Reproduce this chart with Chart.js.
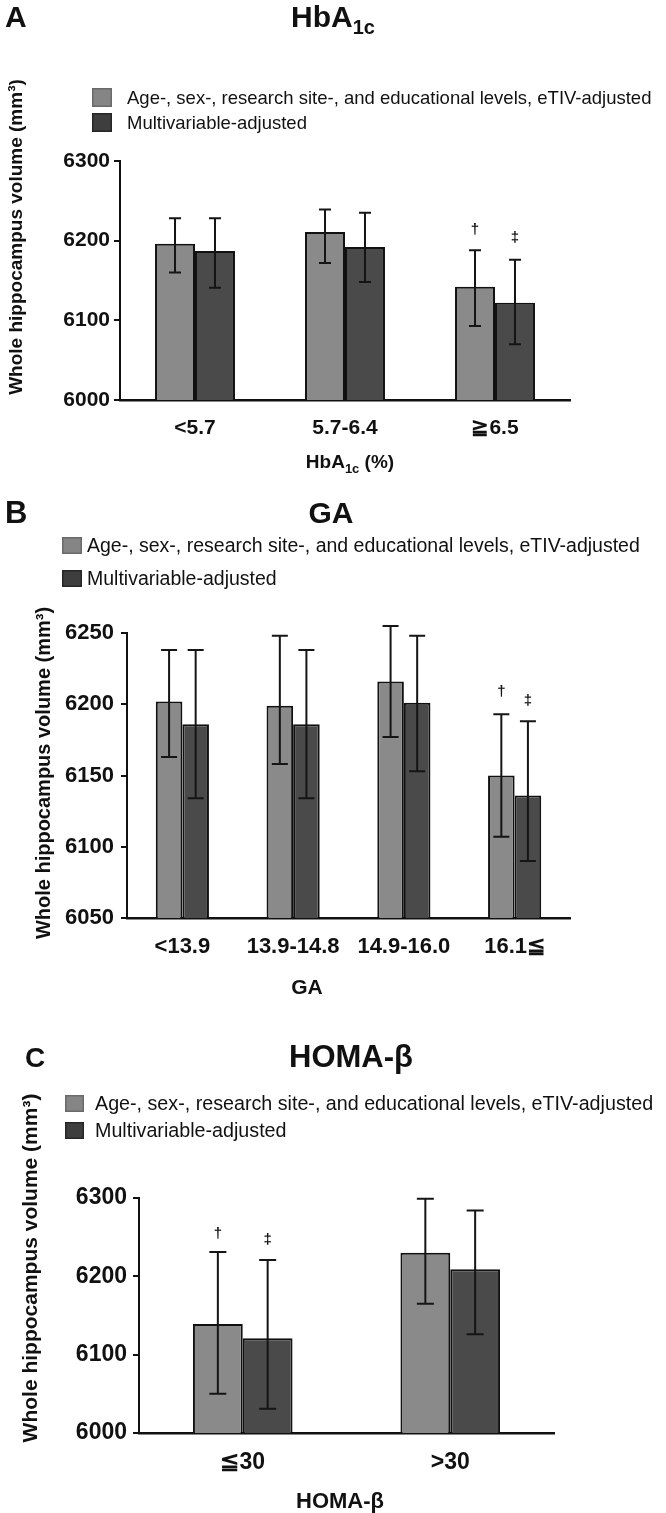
<!DOCTYPE html>
<html>
<head>
<meta charset="utf-8">
<script src="https://cdn.jsdelivr.net/npm/chart.js@4.4.0/dist/chart.umd.min.js"></script>
<style>
  body { margin: 0; background: #fff; width: 666px; height: 1513px; position: relative; overflow: hidden; }
  canvas { position: absolute; left: 0; }
</style>
</head>
<body>
<canvas id="chartA" width="666" height="480" style="top:0px"></canvas>
<canvas id="chartB" width="666" height="520" style="top:480px"></canvas>
<canvas id="chartC" width="666" height="513" style="top:1000px"></canvas>
<script>
// series names
const seriesNames = ['Age-, sex-, research site-, and educational levels, eTIV-adjusted', 'Multivariable-adjusted'];

// A: HbA1c
const categoriesA = ['<5.7', '5.7-6.4', '≧6.5'];
const adjustedA = [6196, 6211, 6142];
const adjustedA_lo = [6160, 6172, 6093];
const adjustedA_hi = [6228, 6239, 6188];
const multiA = [6187, 6192, 6122];
const multiA_lo = [6141, 6148, 6070];
const multiA_hi = [6228, 6235, 6176];
const ticksA = [6000, 6100, 6200, 6300];

// B: GA
const categoriesB = ['<13.9', '13.9-14.8', '14.9-16.0', '16.1≦'];
const adjustedB = [6202, 6199, 6216, 6150];
const adjustedB_lo = [6163, 6158, 6177, 6107];
const adjustedB_hi = [6238, 6248, 6255, 6193];
const multiB = [6186, 6186, 6201, 6136];
const multiB_lo = [6134, 6134, 6153, 6090];
const multiB_hi = [6238, 6238, 6248, 6188];
const ticksB = [6050, 6100, 6150, 6200, 6250];

// C: HOMA-beta
const categoriesC = ['≦30', '>30'];
const adjustedC = [6139, 6230];
const adjustedC_lo = [6050, 6165];
const adjustedC_hi = [6231, 6299];
const multiC = [6121, 6209];
const multiC_lo = [6031, 6126];
const multiC_hi = [6221, 6284];
const ticksC = [6000, 6100, 6200, 6300];

const FONT = "'Liberation Sans', Arial, Helvetica, sans-serif";
const LIGHT = '#8a8a8a';
const DARK = '#4a4a4a';

// draws text made of runs (for sub/superscripts), centred on cx
function drawRuns(ctx, runs, cx, y) {
  let total = 0;
  runs.forEach(r => {
    ctx.font = 'bold ' + r.size + 'px ' + FONT;
    total += ctx.measureText(r.text).width;
  });
  let x = cx - total / 2;
  ctx.textAlign = 'left';
  ctx.textBaseline = 'alphabetic';
  runs.forEach(r => {
    ctx.font = 'bold ' + r.size + 'px ' + FONT;
    ctx.fillText(r.text, x, y + (r.dy || 0));
    x += ctx.measureText(r.text).width;
  });
}

const panelDecor = {
  id: 'panelDecor',
  afterDatasetsDraw(chart, args, o) {
    const ctx = chart.ctx;
    const ys = chart.scales.y;
    ctx.save();
    ctx.strokeStyle = '#151515';
    ctx.lineWidth = 2;
    o.errors.forEach((err, di) => {
      chart.getDatasetMeta(di).data.forEach((bar, i) => {
        const top = ys.getPixelForValue(err.hi[i]);
        const bot = ys.getPixelForValue(err.lo[i]);
        ctx.beginPath();
        ctx.moveTo(bar.x, top); ctx.lineTo(bar.x, bot);
        ctx.moveTo(bar.x - o.cap, top); ctx.lineTo(bar.x + o.cap, top);
        ctx.moveTo(bar.x - o.cap, bot); ctx.lineTo(bar.x + o.cap, bot);
        ctx.stroke();
      });
    });
    // significance marks
    ctx.fillStyle = '#151515';
    ctx.font = 'bold 15px ' + FONT;
    ctx.textAlign = 'center';
    ctx.textBaseline = 'middle';
    o.marks.forEach(m => {
      const bar = chart.getDatasetMeta(m.ds).data[m.i];
      const top = ys.getPixelForValue(o.errors[m.ds].hi[m.i]);
      ctx.fillText(m.text, bar.x, top - m.gap);
    });
    ctx.restore();
  },
  afterDraw(chart, args, o) {
    const ctx = chart.ctx;
    ctx.save();
    ctx.fillStyle = '#111';
    // panel letter
    ctx.font = 'bold ' + o.letter.size + 'px ' + FONT;
    ctx.textAlign = 'left';
    ctx.textBaseline = 'alphabetic';
    ctx.fillText(o.letter.text, o.letter.x, o.letter.y);
    // title
    drawRuns(ctx, o.title.runs, o.title.cx, o.title.y);
    // legend
    const lg = o.legend;
    chart.data.datasets.forEach((ds, i) => {
      const y0 = lg.rows[i];
      ctx.fillStyle = lg.fills[i];
      ctx.fillRect(lg.x, y0, lg.w, lg.h);
      ctx.strokeStyle = lg.strokes[i];
      ctx.lineWidth = 1.5;
      ctx.strokeRect(lg.x + 0.75, y0 + 0.75, lg.w - 1.5, lg.h - 1.5);
      ctx.fillStyle = '#111';
      ctx.font = lg.size + 'px ' + FONT;
      ctx.textBaseline = 'middle';
      ctx.textAlign = 'left';
      ctx.fillText(ds.label, lg.textX, y0 + lg.h / 2 + 1);
    });
    // y title
    ctx.save();
    ctx.translate(o.yTitle.x, o.yTitle.y);
    ctx.rotate(-Math.PI / 2);
    ctx.font = 'bold ' + o.yTitle.size + 'px ' + FONT;
    ctx.textAlign = 'center';
    ctx.textBaseline = 'middle';
    ctx.fillText('Whole hippocampus volume (mm³)', 0, 0);
    ctx.restore();
    // x title
    ctx.fillStyle = '#111';
    drawRuns(ctx, o.xTitle.runs, o.xTitle.cx, o.xTitle.y);
    ctx.restore();
  }
};

function makeChart(id, p) {
  return new Chart(document.getElementById(id), {
    type: 'bar',
    data: {
      labels: p.categories,
      datasets: [
        { label: seriesNames[0], data: p.adjusted, backgroundColor: LIGHT },
        { label: seriesNames[1], data: p.multi, backgroundColor: DARK }
      ].map(d => Object.assign(d, {
        borderColor: '#111', borderWidth: 2, borderSkipped: 'bottom',
        barPercentage: 1.0, categoryPercentage: p.catPct
      }))
    },
    options: {
      responsive: false,
      devicePixelRatio: 1,
      animation: false,
      layout: { padding: { top: p.area.top, right: p.area.right, left: 0, bottom: 0 } },
      plugins: {
        legend: { display: false },
        title: { display: false },
        tooltip: { enabled: false },
        panelDecor: p.decor
      },
      scales: {
        x: {
          grid: { display: false, drawTicks: false },
          border: { display: true, color: '#111', width: 2.5 },
          ticks: { color: '#111', padding: p.xPad, font: { family: FONT, size: p.tickSize, weight: 'bold' } },
          afterFit: s => { s.height = p.area.xHeight; }
        },
        y: {
          min: p.yTicks[0],
          max: p.yTicks[p.yTicks.length - 1],
          afterBuildTicks: s => { s.ticks = p.yTicks.map(v => ({ value: v })); },
          grid: { drawOnChartArea: false, drawTicks: true, tickLength: 6, color: '#111', lineWidth: 2 },
          border: { display: true, color: '#111', width: 2 },
          ticks: { color: '#111', padding: p.yPad, callback: v => String(v), font: { family: FONT, size: p.tickSize, weight: 'bold' } },
          afterFit: s => { s.width = p.area.left; }
        }
      }
    },
    plugins: [panelDecor]
  });
}

const legendFills = ['#858585', '#3e3e3e'];
const legendStrokes = ['#6a6a6a', '#262626'];

makeChart('chartA', {
  categories: categoriesA, adjusted: adjustedA, multi: multiA, yTicks: ticksA,
  catPct: 0.533, tickSize: 21, xPad: 16, yPad: 4,
  area: { top: 161, right: 96, left: 120, xHeight: 80 },
  decor: {
    errors: [{ lo: adjustedA_lo, hi: adjustedA_hi }, { lo: multiA_lo, hi: multiA_hi }],
    cap: 6,
    marks: [{ ds: 0, i: 2, text: '†', gap: 20 }, { ds: 1, i: 2, text: '‡', gap: 22 }],
    letter: { text: 'A', x: 5, y: 27, size: 30 },
    title: { runs: [{ text: 'HbA', size: 30 }, { text: '1c', size: 20, dy: 7 }], cx: 333, y: 27 },
    legend: { x: 92, w: 20, h: 19, rows: [88, 113], textX: 127, size: 18.5, fills: legendFills, strokes: legendStrokes },
    yTitle: { x: 17, y: 237, size: 19 },
    xTitle: { runs: [{ text: 'HbA', size: 19 }, { text: '1c', size: 13, dy: 5 }, { text: ' (%)', size: 19 }], cx: 350, y: 468 }
  }
});

makeChart('chartB', {
  categories: categoriesB, adjusted: adjustedB, multi: multiB, yTicks: ticksB,
  catPct: 0.48, tickSize: 22, xPad: 16, yPad: 7,
  area: { top: 153, right: 96, left: 127, xHeight: 82 },
  decor: {
    errors: [{ lo: adjustedB_lo, hi: adjustedB_hi }, { lo: multiB_lo, hi: multiB_hi }],
    cap: 8,
    marks: [{ ds: 0, i: 3, text: '†', gap: 22 }, { ds: 1, i: 3, text: '‡', gap: 20 }],
    letter: { text: 'B', x: 5, y: 43, size: 31 },
    title: { runs: [{ text: 'GA', size: 30 }], cx: 331, y: 43 },
    legend: { x: 62, w: 20, h: 17, rows: [57, 90], textX: 87, size: 19.5, fills: legendFills, strokes: legendStrokes },
    yTitle: { x: 44, y: 293, size: 20 },
    xTitle: { runs: [{ text: 'GA', size: 21 }], cx: 307, y: 514 }
  }
});

makeChart('chartC', {
  categories: categoriesC, adjusted: adjustedC, multi: multiC, yTicks: ticksC,
  catPct: 0.48, tickSize: 23, xPad: 16, yPad: 6,
  area: { top: 198, right: 112, left: 139, xHeight: 80 },
  decor: {
    errors: [{ lo: adjustedC_lo, hi: adjustedC_hi }, { lo: multiC_lo, hi: multiC_hi }],
    cap: 8.5,
    marks: [{ ds: 0, i: 0, text: '†', gap: 18 }, { ds: 1, i: 0, text: '‡', gap: 20 }],
    letter: { text: 'C', x: 25, y: 67, size: 28 },
    title: { runs: [{ text: 'HOMA-β', size: 31 }], cx: 351, y: 67 },
    legend: { x: 65, w: 19, h: 17, rows: [95, 122], textX: 95, size: 19.7, fills: legendFills, strokes: legendStrokes },
    yTitle: { x: 31, y: 268, size: 21 },
    xTitle: { runs: [{ text: 'HOMA-β', size: 22 }], cx: 340, y: 508 }
  }
});
</script>
</body>
</html>
